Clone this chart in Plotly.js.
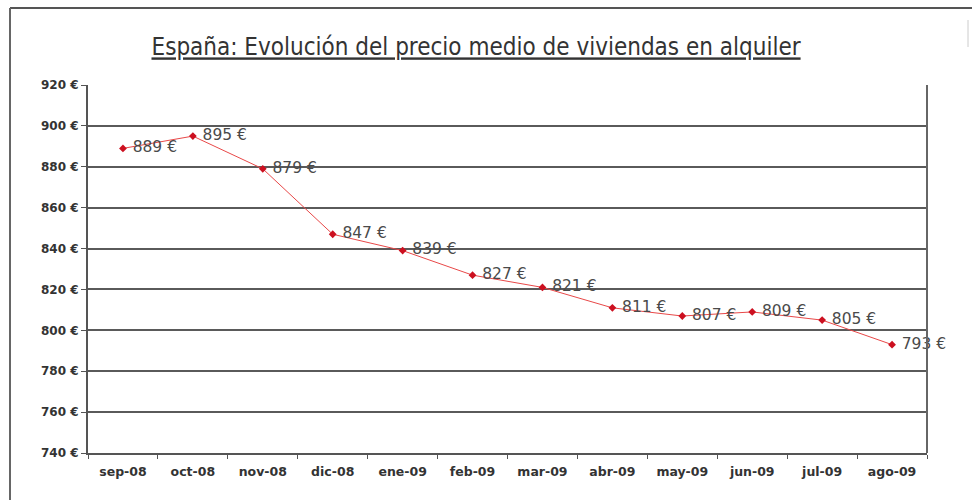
<!DOCTYPE html>
<html>
<head>
<meta charset="utf-8">
<script src="https://cdn.plot.ly/plotly-3.0.1.min.js"></script>
<style>
html,body{margin:0;padding:0;background:#fff;}
#chart{width:972px;height:500px;}
</style>
</head>
<body>
<div id="chart"></div>
<script>
const months = ["sep-08","oct-08","nov-08","dic-08","ene-09","feb-09","mar-09","abr-09","may-09","jun-09","jul-09","ago-09"];
const prices = [889, 895, 879, 847, 839, 827, 821, 811, 807, 809, 805, 793];
const yTicks = [740, 760, 780, 800, 820, 840, 860, 880, 900, 920];
const yTickLabels = yTicks.map(v => v + " €");
const priceLabels = prices.map(v => " " + v + " €");

const trace = {
  x: months,
  y: prices,
  type: "scatter",
  mode: "lines+markers+text",
  text: priceLabels,
  textposition: "middle right",
  textfont: {family: "DejaVu Sans, sans-serif", size: 15.5, color: "#4a4a4a"},
  line: {color: "#e84848", width: 1},
  marker: {color: "#cc1020", size: 6, symbol: "diamond"},
  cliponaxis: false,
  hoverinfo: "none"
};

const layout = {
  width: 972, height: 500,
  margin: {l: 88, r: 45, t: 85, b: 47},
  paper_bgcolor: "#ffffff",
  plot_bgcolor: "#ffffff",
  showlegend: false,
  title: {
    text: "<u>España: Evolución del precio medio de viviendas en alquiler</u>",
    font: {family: "DejaVu Sans Condensed, DejaVu Sans, sans-serif", size: 24, color: "#333"},
    x: 0.4625, xanchor: "center", xref: "paper",
    y: 1 - 47/500, yanchor: "middle", yref: "container"
  },
  xaxis: {
    type: "category",
    range: [-0.5, 11.5],
    showgrid: false,
    showline: true, linecolor: "#555", linewidth: 2,
    ticks: "outside", ticklen: 4, tickcolor: "#555", tickson: "boundaries",
    ticklabelstandoff: 6,
    tickfont: {family: "DejaVu Sans, sans-serif", size: 12.5, color: "#333", weight: "bold"},
    zeroline: false, mirror: false
  },
  yaxis: {
    range: [740, 920],
    tickvals: yTicks, ticktext: yTickLabels,
    showgrid: true, gridcolor: "#5a5a5a", gridwidth: 2,
    showline: true, linecolor: "#555", linewidth: 2,
    ticks: "outside", ticklen: 5, tickcolor: "#555",
    tickfont: {family: "DejaVu Sans, sans-serif", size: 12, color: "#333", weight: "bold"},
    zeroline: false
  },
  shapes: [
    {type: "line", xref: "paper", yref: "y", x0: 1, x1: 1, y0: 740, y1: 920, line: {color: "#666", width: 2}},
    {type: "line", xref: "paper", yref: "paper", x0: -78/839, x1: 1.08, y0: 1 + 77/368, y1: 1 + 77/368, line: {color: "#555", width: 2}},
    {type: "line", xref: "paper", yref: "paper", x0: -78/839, x1: -78/839, y0: 1 + 77/368, y1: -60/368, line: {color: "#666", width: 2}},
    {type: "line", xref: "paper", yref: "paper", x0: 880/839, x1: 880/839, y0: 1 + 65/368, y1: 1 + 38/368, line: {color: "#ccc", width: 1}}
  ]
};

Plotly.newPlot("chart", [trace], layout, {displayModeBar: false, staticPlot: true});
</script>
</body>
</html>
